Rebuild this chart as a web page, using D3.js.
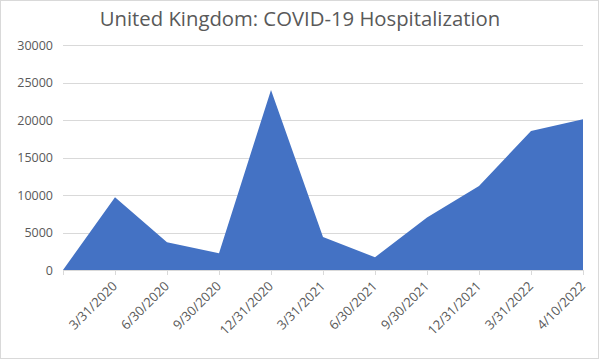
<!DOCTYPE html>
<html>
<head>
<meta charset="utf-8">
<script src="https://cdn.jsdelivr.net/npm/d3@7"></script>
<style>
body { margin: 0; background: #fff; }
svg text { font-family: "Open Sans", "Liberation Sans", sans-serif; fill: #595959; }
</style>
</head>
<body>
<svg id="chart" width="600" height="360"></svg>
<script>
// data
var dates = ["", "3/31/2020", "6/30/2020", "9/30/2020", "12/31/2020", "3/31/2021",
	"6/30/2021", "9/30/2021", "12/31/2021", "3/31/2022", "4/10/2022"];
var hospitalized = [0, 9700, 3700, 2250, 24000, 4400, 1700, 7000, 11200, 18550, 20100];
var y_ticks = [0, 5000, 10000, 15000, 20000, 25000, 30000];

var chart = { left: 63, right: 583, top: 45, bottom: 270 };
var svg = d3.select("#chart");

// chart area border
svg.append("rect")
	.attr("x", 0.5).attr("y", 0.5)
	.attr("width", 598).attr("height", 358)
	.attr("fill", "#fff").attr("stroke", "#d9d9d9");

svg.append("text")
	.attr("x", 300).attr("y", 26)
	.attr("text-anchor", "middle")
	.style("font-size", "20.3px")
	.text("United Kingdom: COVID-19 Hospitalization");

var x = d3.scalePoint().domain(d3.range(dates.length)).range([chart.left, chart.right]);
var y = d3.scaleLinear().domain([0, 30000]).range([chart.bottom, chart.top]);

// gridlines
svg.append("g").selectAll("line")
	.data(y_ticks.slice(1)).enter().append("line")
	.attr("x1", chart.left).attr("x2", chart.right)
	.attr("y1", function(d) { return Math.round(y(d)) + 0.5; })
	.attr("y2", function(d) { return Math.round(y(d)) + 0.5; })
	.attr("stroke", "#d9d9d9");

// y labels
svg.append("g").selectAll("text")
	.data(y_ticks).enter().append("text")
	.attr("x", 53)
	.attr("y", function(d) { return y(d) + 4.5; })
	.attr("text-anchor", "end")
	.style("font-size", "12.5px")
	.text(function(d) { return d; });

var area = d3.area()
	.x(function(d, i) { return x(i); })
	.y0(y(0))
	.y1(function(d) { return y(d); });

svg.append("path")
	.datum(hospitalized)
	.attr("d", area)
	.attr("fill", "#4472c4");

// x axis line + ticks
svg.append("line")
	.attr("x1", chart.left).attr("x2", chart.right)
	.attr("y1", chart.bottom + 0.5).attr("y2", chart.bottom + 0.5)
	.attr("stroke", "#d9d9d9");

svg.append("g").selectAll("line")
	.data(dates).enter().append("line")
	.attr("x1", function(d, i) { return Math.round(x(i)) + 0.5; })
	.attr("x2", function(d, i) { return Math.round(x(i)) + 0.5; })
	.attr("y1", chart.bottom).attr("y2", chart.bottom + 5)
	.attr("stroke", "#d9d9d9");

svg.append("g").selectAll("text")
	.data(dates).enter().append("text")
	.attr("text-anchor", "end")
	.attr("transform", function(d, i) {
		return "translate(" + (x(i) + 3) + "," + (chart.bottom + 17) + ") rotate(-45)";
	})
	.style("font-size", "13px")
	.text(function(d) { return d; });
</script>
</body>
</html>
